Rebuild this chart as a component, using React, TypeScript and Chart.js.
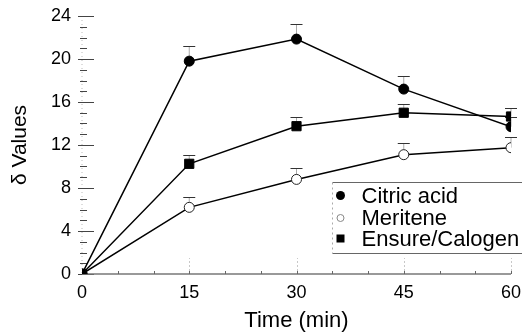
import React, { useEffect, useRef } from "react";
import { Chart, registerables } from "chart.js";

Chart.register(...registerables);

const times = [0, 15, 30, 45, 60];
const seriesNames = ["Citric acid", "Meritene", "Ensure/Calogen"];
const citricAcid = [0, 19.8, 21.85, 17.2, 13.7];
const citricAcidErr = [0, 1.4, 1.45, 1.2, 0.9];
const meritene = [0, 6.2, 8.8, 11.1, 11.75];
const meriteneErr = [0, 1.0, 1.1, 1.1, 0.95];
const ensure = [0, 10.25, 13.75, 15.0, 14.65];
const ensureErr = [0, 0.85, 0.9, 0.85, 0.8];
const yTickValues = [0, 4, 8, 12, 16, 20, 24];
const xTickValues = [0, 15, 30, 45, 60];
const xTitle = "Time (min)";
const yTitle = "δ Values";

const FONT = "'Liberation Sans', Arial, Helvetica, sans-serif";

const toPoints = (vals: number[]) => vals.map((v, i) => ({ x: times[i], y: v }));

const axesPlugin = {
  id: "customAxes",
  beforeDatasetsDraw(chart: any) {
    const ctx = chart.ctx;
    const xs = chart.scales.x;
    const ys = chart.scales.y;
    const { left, bottom } = chart.chartArea;
    ctx.save();
    ctx.strokeStyle = "#bbbbbb";
    ctx.lineWidth = 1;
    ctx.setLineDash([1, 3]);
    ctx.beginPath();
    ctx.moveTo(left, ys.getPixelForValue(24));
    ctx.lineTo(left, bottom);
    ctx.stroke();
    ctx.setLineDash([]);
    ctx.strokeStyle = "#444444";
    for (let v = 0; v <= 24; v++) {
      const py = Math.round(ys.getPixelForValue(v)) + 0.5;
      const major = v % 4 === 0;
      ctx.lineWidth = 1;
      ctx.beginPath();
      ctx.moveTo(left - (major ? 4 : 2), py);
      ctx.lineTo(left + (major ? 12 : 5), py);
      ctx.stroke();
    }
    ctx.strokeStyle = "#777777";
    ctx.lineWidth = 1.5;
    ctx.beginPath();
    ctx.moveTo(left, bottom);
    ctx.lineTo(xs.getPixelForValue(60), bottom);
    ctx.stroke();
    ctx.lineWidth = 1;
    ctx.strokeStyle = "#666666";
    for (let v = 5; v <= 60; v += 5) {
      const px = Math.round(xs.getPixelForValue(v)) + 0.5;
      ctx.beginPath();
      ctx.moveTo(px, bottom);
      ctx.lineTo(px, bottom - 3);
      ctx.stroke();
    }
    ctx.strokeStyle = "#c8c8c8";
    ctx.setLineDash([2, 2]);
    for (const v of xTickValues) {
      if (v === 0) continue;
      const px = Math.round(xs.getPixelForValue(v)) + 0.5;
      ctx.beginPath();
      ctx.moveTo(px, bottom - 3);
      ctx.lineTo(px, bottom - 16);
      ctx.stroke();
    }
    ctx.setLineDash([]);
    chart.data.datasets.forEach((ds: any) => {
      const errs: number[] = ds.errors;
      ds.data.forEach((p: any, j: number) => {
        const e = errs[j];
        if (!e) return;
        const px = xs.getPixelForValue(p.x);
        const py0 = ys.getPixelForValue(p.y);
        const py1 = Math.round(ys.getPixelForValue(p.y + e)) + 0.5;
        ctx.strokeStyle = "#aaaaaa";
        ctx.lineWidth = 1;
        ctx.beginPath();
        ctx.moveTo(px, py0);
        ctx.lineTo(px, py1);
        ctx.stroke();
        ctx.strokeStyle = "#333333";
        ctx.beginPath();
        ctx.moveTo(px - 6, py1);
        ctx.lineTo(px + 6, py1);
        ctx.stroke();
      });
    });
    ctx.restore();
  },
};

const legendPlugin = {
  id: "customLegend",
  afterDraw(chart: any) {
    const ctx = chart.ctx;
    const xs = chart.scales.x;
    const ys = chart.scales.y;
    const bx = Math.round(xs.getPixelForValue(35)) + 0.5;
    const top = Math.round(ys.getPixelForValue(8.55)) + 0.5;
    const bot = Math.round(ys.getPixelForValue(1.95)) + 0.5;
    const right = chart.width;
    ctx.save();
    ctx.fillStyle = "#ffffff";
    ctx.fillRect(bx, top, right - bx, bot - top);
    ctx.strokeStyle = "#666666";
    ctx.lineWidth = 1;
    ctx.beginPath();
    ctx.moveTo(bx, top);
    ctx.lineTo(right, top);
    ctx.moveTo(bx, bot);
    ctx.lineTo(right, bot);
    ctx.stroke();
    ctx.strokeStyle = "#aaaaaa";
    ctx.setLineDash([2, 3]);
    ctx.beginPath();
    ctx.moveTo(bx, top);
    ctx.lineTo(bx, bot);
    ctx.stroke();
    ctx.setLineDash([]);
    const rows = [top + 13, top + 35.5, top + 56];
    const mx = bx + 8;
    ctx.font = `22px ${FONT}`;
    ctx.textBaseline = "middle";
    ctx.textAlign = "left";
    rows.forEach((ry, i) => {
      ctx.fillStyle = "#000000";
      if (i === 0) {
        ctx.beginPath();
        ctx.arc(mx, ry, 4.5, 0, Math.PI * 2);
        ctx.fill();
      } else if (i === 1) {
        ctx.strokeStyle = "#888888";
        ctx.lineWidth = 1;
        ctx.beginPath();
        ctx.arc(mx, ry, 3.5, 0, Math.PI * 2);
        ctx.stroke();
      } else {
        ctx.fillRect(mx - 4, ry - 4, 8, 8);
      }
      ctx.fillStyle = "#000000";
      ctx.fillText(seriesNames[i], bx + 29, ry + 1);
    });
    ctx.restore();
  },
};

export default function App() {
  const ref = useRef<HTMLCanvasElement>(null);
  useEffect(() => {
    if (!ref.current) return;
    const chart = new Chart(ref.current, {
      type: "line",
      data: {
        datasets: [
          {
            label: seriesNames[0],
            data: toPoints(citricAcid),
            errors: citricAcidErr,
            borderColor: "#000",
            borderWidth: 1.5,
            pointStyle: "circle",
            pointRadius: 5,
            pointBackgroundColor: "#000",
            pointBorderColor: "#000",
            pointBorderWidth: 1,
          } as any,
          {
            label: seriesNames[1],
            data: toPoints(meritene),
            errors: meriteneErr,
            borderColor: "#000",
            borderWidth: 1.5,
            pointStyle: "circle",
            pointRadius: 5,
            pointBackgroundColor: "#fff",
            pointBorderColor: "#222",
            pointBorderWidth: 1,
          } as any,
          {
            label: seriesNames[2],
            data: toPoints(ensure),
            errors: ensureErr,
            borderColor: "#000",
            borderWidth: 1.5,
            pointStyle: "rect",
            pointRadius: 6.5,
            pointBackgroundColor: "#000",
            pointBorderColor: "#000",
            pointBorderWidth: 1,
          } as any,
        ],
      },
      options: {
        responsive: false,
        animation: false,
        layout: { autoPadding: false, padding: { top: 16, right: 11, left: 0, bottom: 0 } },
        plugins: { legend: { display: false }, tooltip: { enabled: false } },
        elements: { line: { tension: 0 } },
        scales: {
          x: {
            type: "linear",
            min: 0,
            max: 60,
            afterBuildTicks: (s: any) => {
              s.ticks = xTickValues.map((v) => ({ value: v }));
            },
            afterFit: (s: any) => {
              s.height = 62;
              s.paddingLeft = 0;
              s.paddingRight = 0;
            },
            grid: { display: false, drawTicks: false, tickLength: 0 },
            border: { display: false },
            ticks: {
              color: "#000",
              padding: 8,
              maxRotation: 0,
              font: { family: FONT, size: 18 },
            },
            title: {
              display: true,
              text: xTitle,
              color: "#000",
              font: { family: FONT, size: 22 },
              padding: { top: 0, bottom: 2 },
            },
          },
          y: {
            type: "linear",
            min: 0,
            max: 24,
            afterBuildTicks: (s: any) => {
              s.ticks = yTickValues.map((v) => ({ value: v }));
            },
            afterFit: (s: any) => {
              s.width = 82;
              s.paddingTop = 0;
              s.paddingBottom = 0;
            },
            grid: { display: false, drawTicks: false, tickLength: 0 },
            border: { display: false },
            ticks: {
              color: "#000",
              padding: 11,
              font: { family: FONT, size: 18 },
            },
            title: {
              display: true,
              text: yTitle,
              color: "#000",
              font: { family: FONT, size: 21 },
              padding: { top: 8, bottom: 0 },
            },
          },
        },
      },
      plugins: [axesPlugin, legendPlugin],
    } as any);
    return () => chart.destroy();
  }, []);
  return (
    <div style={{ position: "absolute", left: 0, top: 0, width: 522, height: 336, background: "#fff" }}>
      <canvas ref={ref} width={522} height={336} />
    </div>
  );
}
